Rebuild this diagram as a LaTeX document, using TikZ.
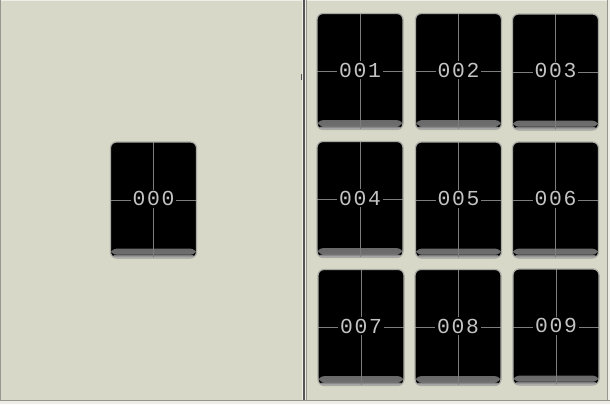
\documentclass[tikz,border=0pt]{standalone}
\usepackage{fontspec}
\newfontfamily\lcdfont[LetterSpace=8]{Liberation Mono}
\definecolor{bg}{RGB}{216,216,200}
\definecolor{tileedge}{RGB}{170,170,165}
\definecolor{cross}{RGB}{125,125,125}
\definecolor{digit}{RGB}{195,195,195}
\definecolor{darkline}{RGB}{85,85,85}
\definecolor{midline}{RGB}{150,150,145}
\definecolor{lightline}{RGB}{238,238,230}
\tikzset{
  tile/.style={draw=tileedge, line width=0.9pt, fill=black, rounded corners=4.5pt,
    minimum width=64.5pt, minimum height=87pt, inner sep=0pt,
    path picture={
      \shade[top color=black, bottom color=black!55!white]
        ([yshift=7pt]path picture bounding box.south west) rectangle ([yshift=2.5pt]path picture bounding box.south east);
      \shade[top color=black!55!white, bottom color=black!20!white]
        ([yshift=2.5pt]path picture bounding box.south west) rectangle (path picture bounding box.south east);
      \draw[cross, line width=0.7pt] (path picture bounding box.north) -- (path picture bounding box.south);
      \draw[cross, line width=0.7pt] (path picture bounding box.west) -- (path picture bounding box.east);
    }},
  lbl/.style={fill=black, text=digit, inner sep=1.2pt, font=\lcdfont\fontsize{16}{16}\selectfont}
}
\begin{document}
\begin{tikzpicture}[x=0.75pt,y=-0.75pt]
\useasboundingbox (0,0) rectangle (610,404);
\fill[bg] (0,0) rectangle (610,404);
% frame lines
\fill[lightline] (0,0) rectangle (610,1);
\fill[midline] (0,0) rectangle (1,404);
\fill[lightline] (302,0) rectangle (303,401);
\fill[darkline] (303,0) rectangle (305,401);
\fill[lightline] (305,0) rectangle (306,401);
\fill[midline] (306,0) rectangle (307,401);
\fill[darkline] (301,74) rectangle (302,80);
\fill[midline] (607,0) rectangle (608,401);
\fill[lightline] (608,0) rectangle (610,401);
\fill[midline] (0,400) rectangle (610,401);
\fill[lightline] (0,401) rectangle (610,404);
% tiles
\node[tile] (t000) at (153.5,200) {};
\node[lbl] (l000) at ([yshift=1pt]t000.center) {000};
\node[tile] (t001) at (360,71.5) {};
\node[lbl] (l001) at ([yshift=1pt]t001.center) {001};
\node[tile] (t002) at (458.5,71.5) {};
\node[lbl] (l002) at ([yshift=1pt]t002.center) {002};
\node[tile] (t003) at (555.5,72) {};
\node[lbl] (l003) at ([yshift=1pt]t003.center) {003};
\node[tile] (t004) at (360,199.5) {};
\node[lbl] (l004) at ([yshift=1pt]t004.center) {004};
\node[tile] (t005) at (458.5,200) {};
\node[lbl] (l005) at ([yshift=1pt]t005.center) {005};
\node[tile] (t006) at (555.5,200) {};
\node[lbl] (l006) at ([yshift=1pt]t006.center) {006};
\node[tile] (t007) at (361,327.5) {};
\node[lbl] (l007) at ([yshift=1pt]t007.center) {007};
\node[tile] (t008) at (458,327.5) {};
\node[lbl] (l008) at ([yshift=1pt]t008.center) {008};
\node[tile] (t009) at (556,327) {};
\node[lbl] (l009) at ([yshift=1pt]t009.center) {009};
\end{tikzpicture}
\end{document}
